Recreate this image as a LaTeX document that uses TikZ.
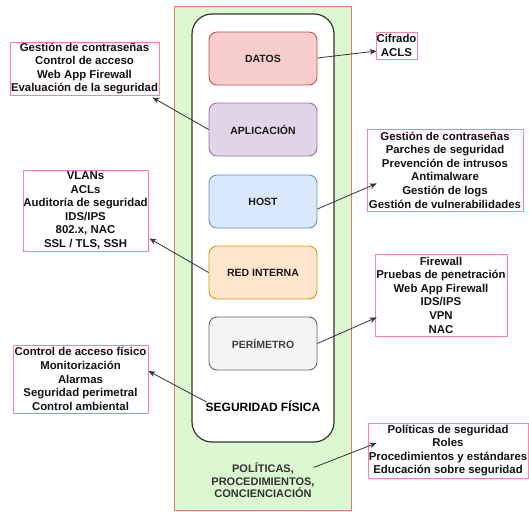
\documentclass[tikz,border=0pt]{standalone}
\usepackage{fontspec}
\setmainfont{Liberation Sans}
\usetikzlibrary{calc,arrows.meta}
\definecolor{zoneFill}{HTML}{DCF8D0}
\definecolor{zoneLine}{HTML}{E07A78}
\definecolor{calloutLine}{HTML}{FF7FA8}
\definecolor{linkLine}{HTML}{333333}
\definecolor{datosFill}{HTML}{F8CECC}\definecolor{datosLine}{HTML}{B85450}
\definecolor{appFill}{HTML}{E1D5E7}\definecolor{appLine}{HTML}{9673A6}
\definecolor{hostFill}{HTML}{DAE8FC}\definecolor{hostLine}{HTML}{6C8EBF}
\definecolor{redFill}{HTML}{FFE6CC}\definecolor{redLine}{HTML}{D79B00}
\definecolor{perFill}{HTML}{F5F5F5}\definecolor{perLine}{HTML}{666666}
\begin{document}
\begin{tikzpicture}[x=1pt,y=-1pt,
  layer/.style={draw, line width=0.9pt, rounded corners=8pt, minimum width=108pt,
    minimum height=53pt, inner sep=0pt, font=\fontsize{10.5}{12}\selectfont\bfseries,
    text=black!90},
  callout/.style={draw=calloutLine, line width=0.9pt, fill=white, align=center,
    inner sep=0pt, font=\fontsize{11.4}{13.6}\selectfont\bfseries, text=black!93},
  link/.style={draw=linkLine, line width=0.8pt, -{Stealth[length=7pt,width=5.5pt]}}
]
\useasboundingbox (0,0) rectangle (529,511);

% outer zone and the inner rounded frame
\node[draw=zoneLine, fill=zoneFill, line width=0.8pt, minimum width=177pt,
  minimum height=504pt, inner sep=0pt] (zone) at (262.5,258) {};
\node[draw=black!80, fill=white, line width=1.2pt, rounded corners=20pt,
  minimum width=142pt, minimum height=428pt, inner sep=0pt] (frame) at (263,228) {};

% defence layers
\node[layer, fill=datosFill, draw=datosLine] (datos) at (263,58.5) {DATOS};
\node[layer, fill=appFill, draw=appLine] (app) at (263,129.5) {APLICACIÓN};
\node[layer, fill=hostFill, draw=hostLine] (host) at (263,201.5) {HOST};
\node[layer, fill=redFill, draw=redLine] (red) at (263,272.5) {RED INTERNA};
\node[layer, fill=perFill, draw=perLine, text=black!75] (per) at (263,343.5) {PERÍMETRO};

\node[font=\fontsize{12}{14}\selectfont\bfseries, inner sep=1pt] (fis) at (263,406) {SEGURIDAD FÍSICA};
\node[align=center, font=\fontsize{11}{12.6}\selectfont\bfseries, text=black!80, inner sep=1pt] (pol)
  at (263,480.5) {POLÍTICAS,\\PROCEDIMIENTOS,\\CONCIENCIACIÓN};

% measures for each layer
\node[callout, minimum width=149pt, minimum height=53pt] (c1) at (84.5,68.5)
  {Gestión de contraseñas\\Control de acceso\\Web App Firewall\\Evaluación de la seguridad};
\node[callout, minimum width=41pt, minimum height=27pt] (c2) at (396.5,45.5)
  {Cifrado\\ACLS};
\node[callout, minimum width=156pt, minimum height=82pt] (c3) at (445,170)
  {Gestión de contraseñas\\Parches de seguridad\\Prevención de intrusos\\Antimalware\\Gestión de logs\\Gestión de vulnerabilidades};
\node[callout, minimum width=125pt, minimum height=81pt] (c4) at (85.5,210.5)
  {VLANs\\ACLs\\Auditoría de seguridad\\IDS/IPS\\802.x, NAC\\SSL / TLS, SSH};
\node[callout, minimum width=132pt, minimum height=82pt] (c5) at (441,295)
  {Firewall\\Pruebas de penetración\\Web App Firewall\\IDS/IPS\\VPN\\NAC};
\node[callout, minimum width=135pt, minimum height=68pt] (c6) at (80.5,379)
  {Control de acceso físico\\Monitorización\\Alarmas\\Seguridad perimetral\\Control ambiental};
\node[callout, minimum width=160pt, minimum height=55pt] (c7) at (448,450.5)
  {Políticas de seguridad\\Roles\\Procedimientos y estándares\\Educación sobre seguridad};

% connectors
\draw[link] (app.west) -- ($(c1.south east)+(-7,2)$);
\draw[link] ($(datos.east)+(0,-0.5)$) -- ($(c2.west)+(1,5.5)$);
\draw[link] ($(host.east)+(0,7.5)$) -- ($(c3.south west)+(10,-28)$);
\draw[link] (red.west) -- ($(c4.south east)+(1,-13)$);
\draw[link] (per.east) -- ($(c5.south west)+(2,-19)$);
\draw[link] ($(fis.west)+(2,-4)$) -- ($(c6.east)+(0,-8)$);
\draw[link] ($(pol.east)+(-2,-13)$) -- ($(c7.west)+(9,-7.5)$);
\end{tikzpicture}
\end{document}
